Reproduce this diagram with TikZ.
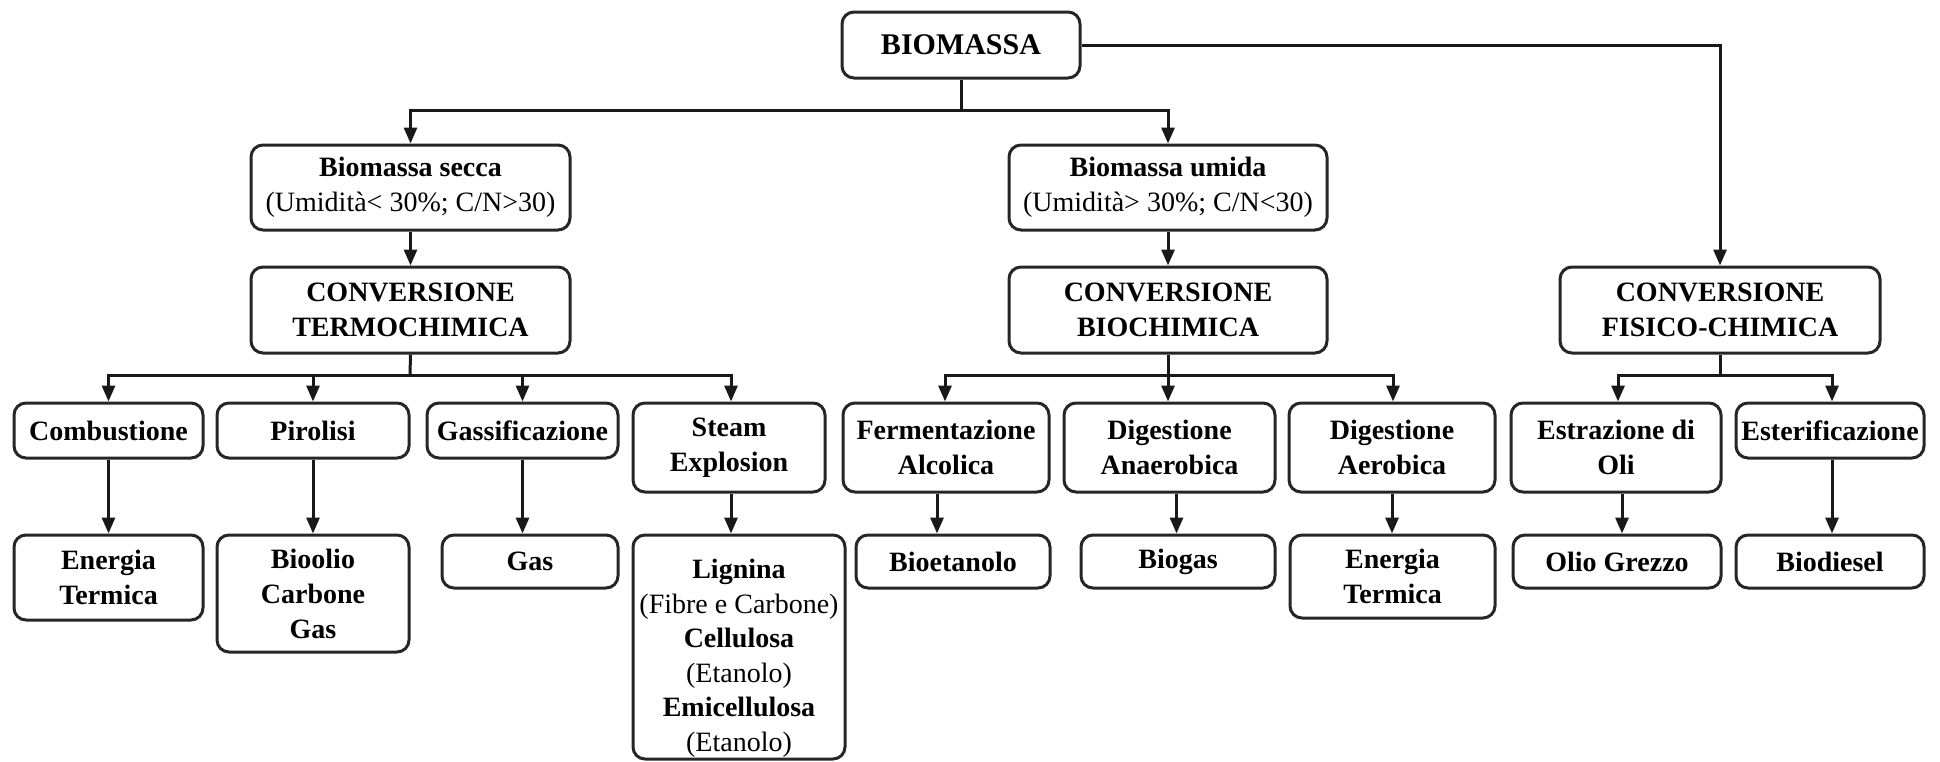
\documentclass[tikz,border=0pt]{standalone}
\usepackage{fontspec}
\setmainfont{Liberation Serif}
\usetikzlibrary{arrows.meta}
\tikzset{
  box/.style={draw=black!85, line width=3pt, rounded corners=12pt, fill=white,
    align=center, inner sep=1pt, font=\fontsize{28}{35}\selectfont\bfseries},
  conn/.style={draw=black!90, line width=3pt},
  arr/.style={conn, -{Triangle[width=13pt,length=16pt]}},
}
\newcommand{\nb}[1]{{\mdseries #1}}
\begin{document}
\begin{tikzpicture}[x=1pt,y=-1pt]
\useasboundingbox (0,0) rectangle (1940,761);
% level 0
\node[box, minimum width=238pt, minimum height=66pt, font=\fontsize{30}{36}\selectfont\bfseries] (bio) at (961,45) {BIOMASSA};
% level 1
\node[box, minimum width=319pt, minimum height=85pt] (secca) at (410.5,187.5) {Biomassa secca\\\nb{(Umidità< 30\%; C/N>30)}};
\node[box, minimum width=318pt, minimum height=85pt] (umida) at (1168,187.5) {Biomassa umida\\\nb{(Umidità> 30\%; C/N<30)}};
% level 2
\node[box, minimum width=319pt, minimum height=86pt] (termo) at (410.5,310) {CONVERSIONE\\TERMOCHIMICA};
\node[box, minimum width=318pt, minimum height=86pt] (bioch) at (1168,310) {CONVERSIONE\\BIOCHIMICA};
\node[box, minimum width=320pt, minimum height=86pt] (fisico) at (1720,310) {CONVERSIONE\\FISICO-CHIMICA};
% level 3
\node[box, minimum width=189pt, minimum height=55pt] (comb) at (108.5,430.5) {Combustione};
\node[box, minimum width=192pt, minimum height=55pt] (piro) at (313,430.5) {Pirolisi};
\node[box, minimum width=191pt, minimum height=55pt] (gass) at (522.5,430.5) {Gassificazione};
\node[box, minimum width=192pt, minimum height=89pt] (steam) at (729,447.5) {Steam\\Explosion};
\node[box, minimum width=206pt, minimum height=89pt] (ferm) at (946,447.5) {Fermentazione\\Alcolica};
\node[box, minimum width=211pt, minimum height=89pt] (dan) at (1169.5,447.5) {Digestione\\Anaerobica};
\node[box, minimum width=206pt, minimum height=89pt] (dae) at (1392,447.5) {Digestione\\Aerobica};
\node[box, minimum width=210pt, minimum height=89pt] (estr) at (1616,447.5) {Estrazione di\\Oli};
\node[box, minimum width=188pt, minimum height=55pt] (ester) at (1830,430.5) {Esterificazione};
% level 4
\node[box, minimum width=189pt, minimum height=85pt] (en1) at (108.5,577.5) {Energia\\Termica};
\node[box, minimum width=192pt, minimum height=117pt] (olio1) at (313,593.5) {Bioolio\\Carbone\\Gas};
\node[box, minimum width=176pt, minimum height=53pt] (gas) at (530,561.5) {Gas};
\node[box, minimum width=212pt, minimum height=224pt, font=\fontsize{28}{34.5}\selectfont\bfseries] (lign) at (739,647) {\rule{0pt}{42pt}Lignina\\\nb{(Fibre e Carbone)}\\Cellulosa\\\nb{(Etanolo)}\\Emicellulosa\\\nb{(Etanolo)}};
\node[box, minimum width=194pt, minimum height=53pt] (bioet) at (953,561.5) {Bioetanolo};
\node[box, minimum width=194pt, minimum height=53pt] (biogas) at (1178,561.5) {Biogas};
\node[box, minimum width=205pt, minimum height=83pt] (en2) at (1392.5,576.5) {Energia\\Termica};
\node[box, minimum width=208pt, minimum height=53pt] (olio) at (1617,561.5) {Olio Grezzo};
\node[box, minimum width=188pt, minimum height=53pt] (biod) at (1830,561.5) {Biodiesel};
% coordinates for bars
\coordinate (b1) at (961,110);
\coordinate (t1) at (410,375);
\coordinate (c1) at (1168,375);
\coordinate (f1) at (1720,375);
% connectors from BIOMASSA
\draw[conn] (bio.south) -- (b1);
\draw[arr] (b1) -| (secca.north);
\draw[arr] (b1) -| (umida.north);
\draw[arr] (bio.east) -| (fisico.north);
\draw[arr] (secca) -- (termo);
\draw[arr] (umida) -- (bioch);
% termochimica
\draw[conn] (termo.south) -- (t1);
\draw[arr] (t1) -| (comb.north);
\draw[arr] (t1) -| (piro.north);
\draw[arr] (t1) -| (gass.north);
\draw[arr] (t1) -| ([xshift=2pt]steam.north);
% biochimica
\draw[conn] (bioch.south) -- (c1);
\draw[arr] (c1) -| ([xshift=-1pt]ferm.north);
\draw[arr] (c1) -| ([xshift=-1.5pt]dan.north);
\draw[arr] (c1) -| ([xshift=1pt]dae.north);
% fisico
\draw[conn] (fisico.south) -- (f1);
\draw[arr] (f1) -| ([xshift=2pt]estr.north);
\draw[arr] (f1) -| ([xshift=2pt]ester.north);
% to products
\draw[arr] (comb.south) -- (comb.south |- en1.north);
\draw[arr] (piro.south) -- (piro.south |- olio1.north);
\draw[arr] (gass.south) -- (gass.south |- gas.north);
\draw[arr] ([xshift=2pt]steam.south) -- ([xshift=2pt]steam.south |- lign.north);
\draw[arr] ([xshift=-9pt]ferm.south) -- ([xshift=-9pt]ferm.south |- bioet.north);
\draw[arr] ([xshift=7pt]dan.south) -- ([xshift=7pt]dan.south |- biogas.north);
\draw[arr] (dae.south) -- (dae.south |- en2.north);
\draw[arr] ([xshift=6pt]estr.south) -- ([xshift=6pt]estr.south |- olio.north);
\draw[arr] ([xshift=2pt]ester.south) -- ([xshift=2pt]ester.south |- biod.north);
\end{tikzpicture}
\end{document}
